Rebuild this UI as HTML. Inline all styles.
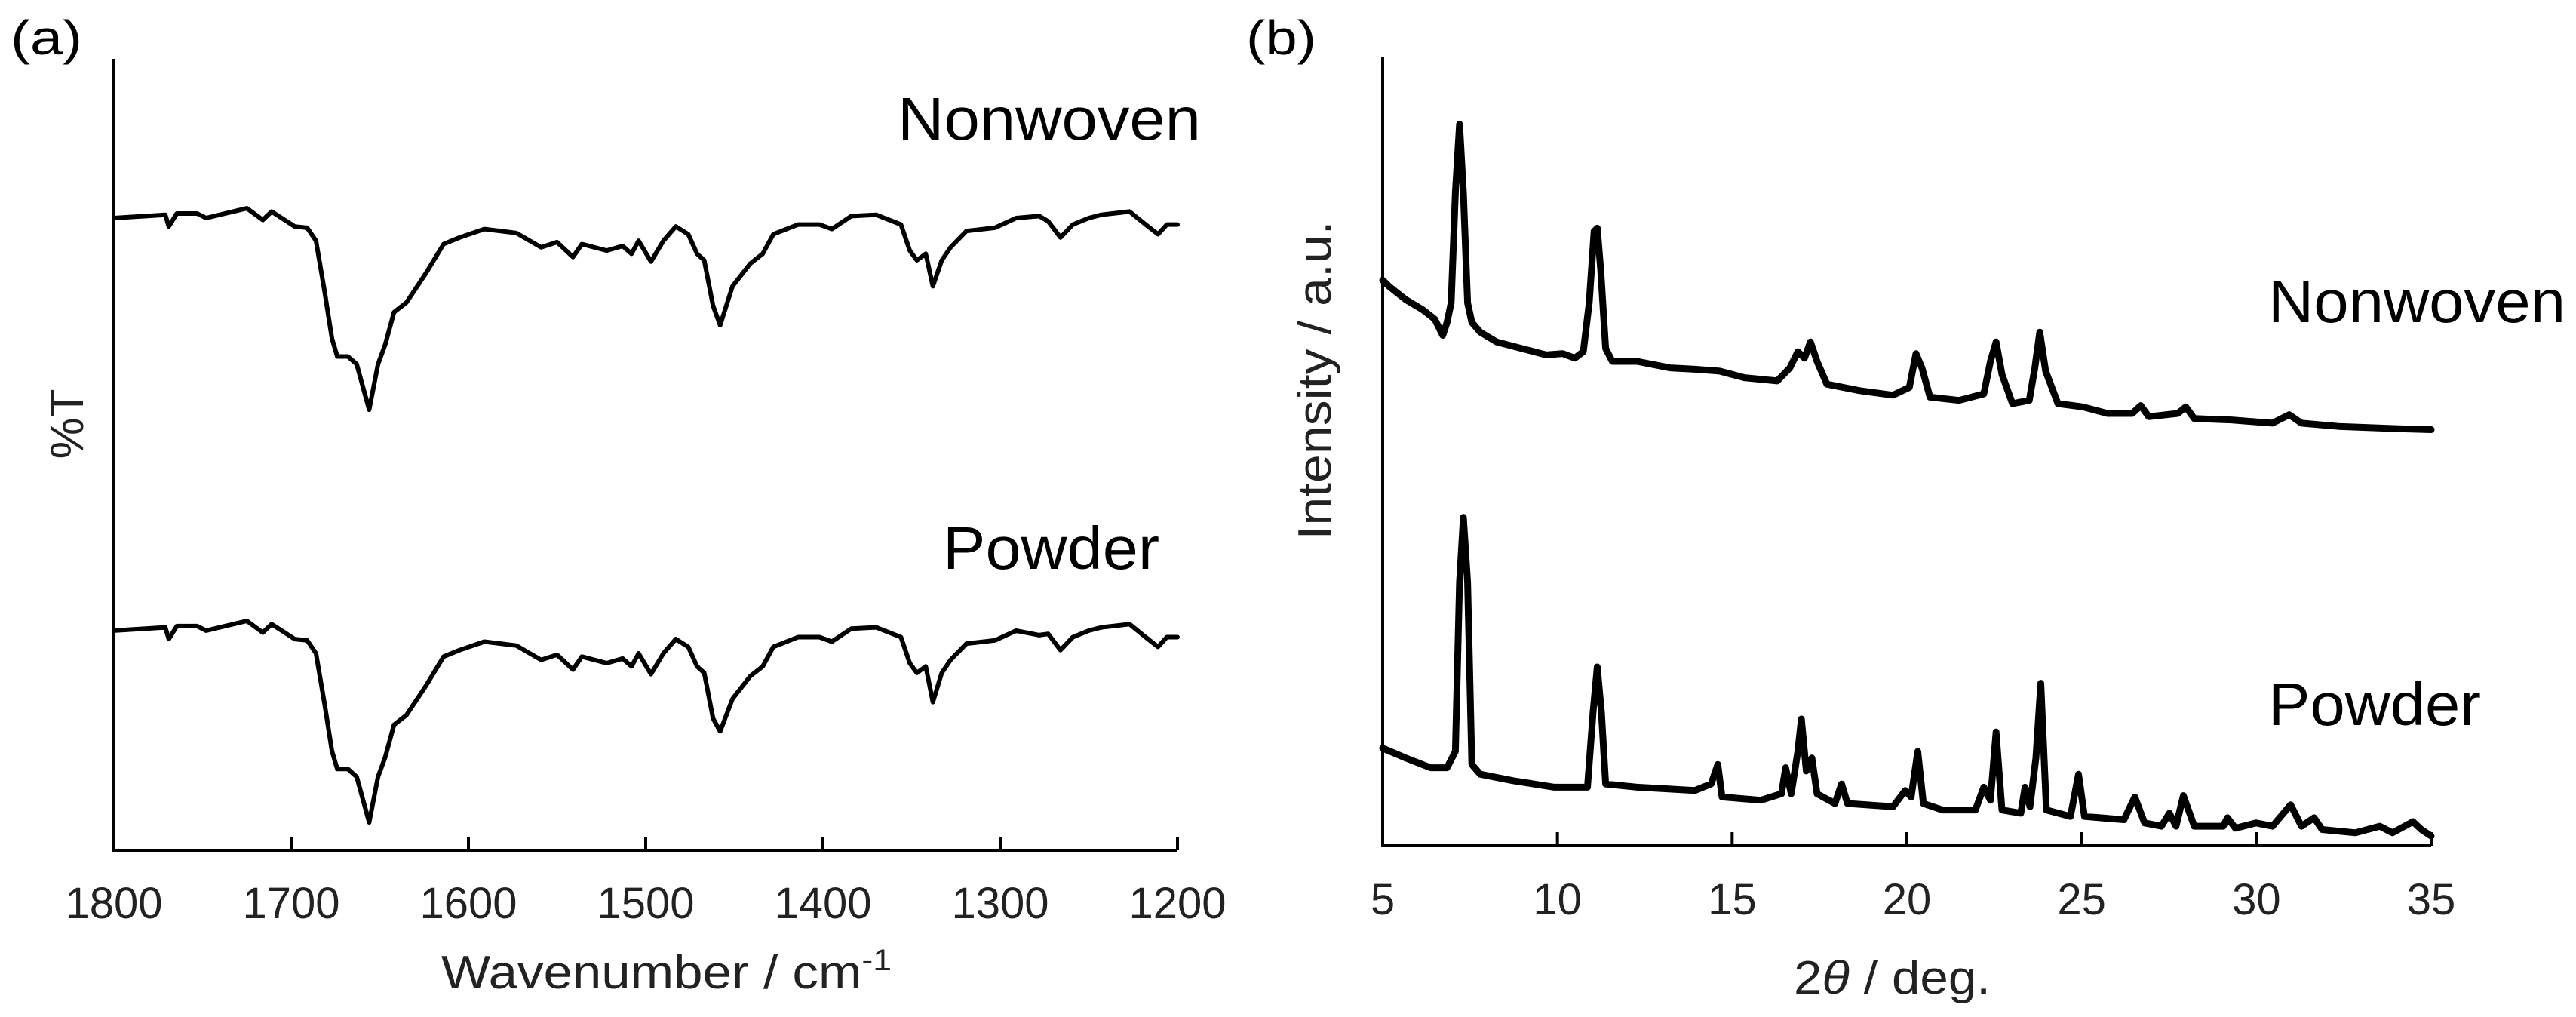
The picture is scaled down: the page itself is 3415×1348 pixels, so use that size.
<!DOCTYPE html>
<html><head><meta charset="utf-8"><style>
html,body{margin:0;padding:0;background:#fff;}
svg{display:block;}
text{font-family:"Liberation Sans",sans-serif;}
</style></head><body>
<svg id="fig" width="3415" height="1348" viewBox="0 0 3415 1348" xmlns="http://www.w3.org/2000/svg">
<rect x="0" y="0" width="3415" height="1348" fill="#fff"/>
<g id="pa"></g>
<g id="pb"></g>
<text x="14" y="72" font-size="64" textLength="95" lengthAdjust="spacingAndGlyphs">(a)</text>
<text x="1652" y="72" font-size="64" textLength="93" lengthAdjust="spacingAndGlyphs">(b)</text>
<text x="1190" y="185" font-size="80" textLength="402" lengthAdjust="spacingAndGlyphs">Nonwoven</text>
<text x="1250" y="754" font-size="80" textLength="287" lengthAdjust="spacingAndGlyphs">Powder</text>
<text x="3007" y="427" font-size="80" textLength="394" lengthAdjust="spacingAndGlyphs">Nonwoven</text>
<text x="3007" y="961" font-size="80" textLength="282" lengthAdjust="spacingAndGlyphs">Powder</text>
<text transform="translate(110,562) rotate(-90)" text-anchor="middle" font-size="62" fill="#222">%T</text>
<text x="585" y="1310" font-size="62" fill="#222" textLength="597" lengthAdjust="spacingAndGlyphs">Wavenumber / cm<tspan font-size="40" dy="-24">-1</tspan></text>
<text transform="translate(1764,504) rotate(-90)" text-anchor="middle" font-size="62" fill="#222" textLength="423" lengthAdjust="spacingAndGlyphs">Intensity / a.u.</text>
<text x="2378" y="1317" font-size="62" fill="#222" textLength="261" lengthAdjust="spacingAndGlyphs">2<tspan font-style="italic">θ</tspan> / deg.</text>
</svg>
<script>
// IR data (wavenumber, arbitrary transmittance units)
const irWn = [1800,1771,1769,1764.5,1753,1748,1725,1716,1711,1698,1691,1686,1681,1677,1674,1668,1663,1656,1651,1647,1642,1635,1624,1614,1605,1591,1573,1559,1550,1541,1536,1522,1513,1508,1504,1497,1490,1483,1476,1471,1467,1462,1458,1451,1441,1434,1428,1414,1402,1395,1384,1370,1356,1351,1347,1342,1338,1333,1328,1319,1303,1291,1278,1273,1266,1259,1250,1243,1227,1218,1211,1206,1200];
const irNonwoven = [973,978,960,980,980,973,988,970,983,960,958,938,858,788,760,760,748,678,748,778,828,843,888,933,943,956,950,928,936,913,933,923,930,918,938,906,938,960,948,918,908,838,808,868,903,918,948,963,963,956,976,978,963,923,908,918,868,908,928,953,958,973,976,968,943,963,973,978,983,963,948,963,963];
const irPowder = [338,343,325,345,345,338,353,335,348,325,323,303,223,153,125,125,113,43,113,143,193,208,253,298,308,321,315,293,301,278,298,288,295,283,303,271,303,325,313,283,273,203,183,233,268,283,313,328,328,321,341,343,328,288,273,283,228,273,293,318,323,338,331,333,308,328,338,343,348,328,313,328,328];
const irTicks = [1800,1700,1600,1500,1400,1300,1200];
// XRD data (2theta, arbitrary intensity)
const xrdNonX = [5,5.19,5.66,6.13,6.49,6.72,6.84,6.96,7.08,7.20,7.31,7.43,7.55,7.79,8.26,8.97,9.68,10.15,10.50,10.74,10.91,11.05,11.14,11.24,11.38,11.57,12.28,13.22,13.93,14.64,15.35,16.29,16.65,16.88,17.07,17.24,17.43,17.71,18.65,19.60,20.07,20.26,20.43,20.66,21.49,22.20,22.39,22.55,22.72,23.02,23.50,23.66,23.80,23.97,24.32,25.03,25.74,26.45,26.69,26.92,27.75,27.98,28.22,29.28,30.46,30.94,31.29,32.35,33.77,35];
const xrdNonY = [870,860,840,825,810,785,805,835,1005,1110,1005,835,805,790,775,765,755,757,750,760,835,945,950,885,765,745,745,735,733,730,720,715,735,760,750,775,745,710,700,693,705,757,735,690,685,695,745,775,725,680,685,735,790,730,680,675,665,665,677,660,665,675,657,655,650,663,650,645,642,640];
const xrdPowX = [5,5.66,6.37,6.84,7.08,7.20,7.31,7.43,7.55,7.79,8.73,9.91,10.86,11.02,11.14,11.26,11.38,12.28,13.93,14.40,14.59,14.71,15.82,16.41,16.53,16.69,16.88,16.98,17.12,17.28,17.43,17.94,18.13,18.30,19.60,19.95,20.12,20.31,20.47,21.02,21.96,22.20,22.39,22.55,22.72,23.26,23.38,23.52,23.69,23.83,23.99,24.68,24.91,25.08,26.21,26.52,26.80,27.28,27.51,27.70,27.91,28.22,29.05,29.17,29.40,29.99,30.46,30.98,31.29,31.65,31.88,32.83,33.53,33.89,34.48,34.72,35];
const xrdPowY = [150,135,120,120,145,405,505,405,125,110,100,90,90,205,275,205,95,90,85,95,125,75,70,80,120,80,145,195,115,135,80,65,95,65,60,85,75,145,65,55,55,90,70,175,55,50,90,60,135,250,55,45,110,45,40,75,35,30,50,30,77,30,30,43,27,35,30,63,30,43,25,20,30,20,37,25,15];
const xrdTicks = [5,10,15,20,25,30,35];

const NS = 'http://www.w3.org/2000/svg';
function mk(tag, attrs, parent){const e=document.createElementNS(NS,tag);for(const k in attrs)e.setAttribute(k,attrs[k]);parent.appendChild(e);return e;}
function lin(d0,d1,r0,r1){return v=>r0+(v-d0)/(d1-d0)*(r1-r0);}

function panel(g, X, Y, x0, x1, yb, yt, ticks, tickY, series, sw, prefix){
  const ax = mk('path',{d:`M${X(x0)},${yt} L${X(x0)},${yb} L${X(x1)},${yb}`,fill:'none',stroke:'#000','stroke-width':4},g);
  
  
  ticks.forEach(t=>{
    const tk = mk('line',{x1:X(t),x2:X(t),y1:yb,y2:yb-18,stroke:'#000','stroke-width':4},g);
    
    
    const lb = mk('text',{x:X(t),y:tickY,'text-anchor':'middle','font-size':58,fill:'#222'},g);
    lb.textContent = String(t);
    
    
  });
  series.forEach(s=>{
    let d='';
    s.x.forEach((v,i)=>{d+=(i?'L':'M')+X(v).toFixed(1)+','+Y(s.y[i]).toFixed(1);});
    const p = mk('path',{d:d,fill:'none',stroke:'#000','stroke-width':sw,'stroke-linejoin':'round','stroke-linecap':'round'},g);
    
    
  });
}
const XA = lin(1800,1200,151,1561), YA = lin(0,1218,1127,78);
panel(document.getElementById('pa'), XA, YA, 1800, 1200, 1127, 78, irTicks, 1217,
  [{x:irWn,y:irNonwoven,name:'ir-nonwoven-line'},{x:irWn,y:irPowder,name:'ir-powder-line'}], 6, 'ir');
const XB = lin(5,35,1833,3223), YB = lin(0,1215,1121,74);
panel(document.getElementById('pb'), XB, YB, 5, 35, 1121, 76, xrdTicks, 1212,
  [{x:xrdNonX,y:xrdNonY,name:'xrd-nonwoven-line'},{x:xrdPowX,y:xrdPowY,name:'xrd-powder-line'}], 9, 'xrd');
</script>
</body></html>
